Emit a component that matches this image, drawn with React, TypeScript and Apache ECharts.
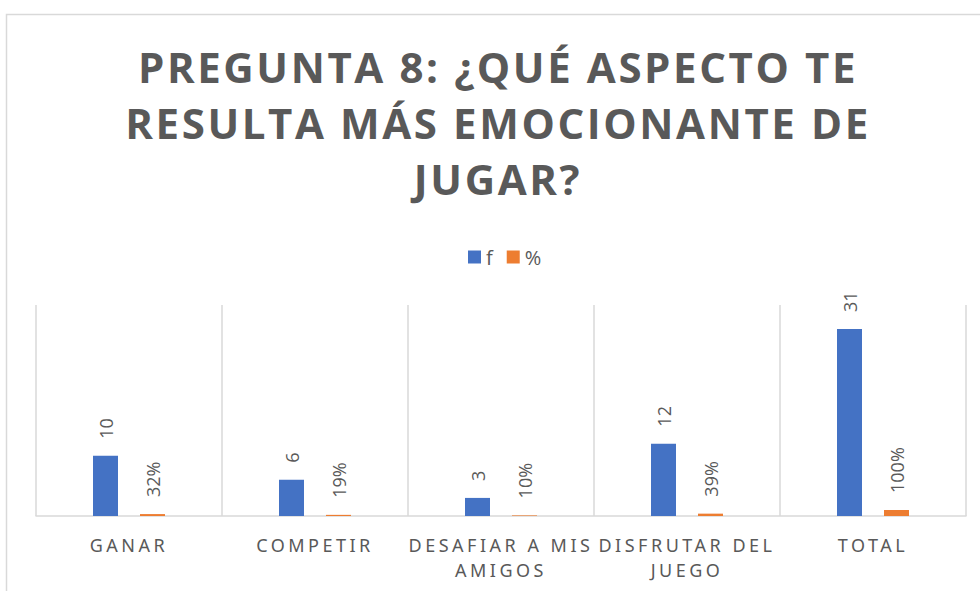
import React, { useEffect, useRef } from "react";
import * as echarts from "echarts";

const categories = ["GANAR", "COMPETIR", "DESAFIAR A MIS AMIGOS", "DISFRUTAR DEL JUEGO", "TOTAL"];
const fValues = [10, 6, 3, 12, 31];
const pctValues = [0.32, 0.19, 0.1, 0.39, 1.0];
const seriesNames = ["f", "%"];
const titleText = "PREGUNTA 8: ¿QUÉ ASPECTO TE\nRESULTA MÁS EMOCIONANTE DE\nJUGAR?";

const TEXT = "#595959";
const BLUE = "#4472C4";
const ORANGE = "#ED7D31";

function wrap(s: string, max: number): string {
  const words = s.split(" ");
  const lines: string[] = [];
  let cur = "";
  for (const w of words) {
    const next = cur ? cur + " " + w : w;
    if (next.length > max && cur) {
      lines.push(cur);
      cur = w;
    } else {
      cur = next;
    }
  }
  if (cur) lines.push(cur);
  return lines.join("\n");
}

export default function App() {
  const ref = useRef<HTMLDivElement>(null);
  useEffect(() => {
    document.body.style.margin = "0";
    const chart = echarts.init(ref.current!, undefined, { renderer: "svg" });
    const labelCommon = {
      show: true,
      position: "top",
      rotate: 90,
      align: "left",
      verticalAlign: "middle",
      distance: 17,
      fontSize: 18,
      color: TEXT,
      fontFamily: "Open Sans",
    };
    chart.setOption({
      animation: false,
      backgroundColor: "#ffffff",
      graphic: [
        {
          type: "rect",
          z: -10,
          silent: true,
          shape: { x: 6.5, y: 14.5, width: 1000, height: 620 },
          style: { fill: "none", stroke: "#d9d9d9", lineWidth: 1.5 },
        },
      ],
      title: {
        text: titleText,
        left: 498,
        top: 38,
        padding: 0,
        textAlign: "center",
        textStyle: {
          fontFamily: "Open Sans",
          fontWeight: "bold",
          fontSize: 42,
          lineHeight: 56,
          color: TEXT,
        },
      },
      legend: {
        data: seriesNames,
        top: 242,
        left: 463,
        icon: "rect",
        itemWidth: 13,
        itemHeight: 13,
        itemGap: 14,
        textStyle: { fontFamily: "Open Sans", fontSize: 20, color: TEXT },
      },
      grid: { left: 36, right: 14, top: 305, bottom: 75, containLabel: false },
      xAxis: {
        type: "category",
        data: categories,
        axisLine: { show: true, lineStyle: { color: "#d9d9d9", width: 1.5 } },
        axisTick: { show: false },
        splitLine: { show: true, lineStyle: { color: "#d9d9d9", width: 1.5 } },
        axisLabel: {
          interval: 0,
          margin: 16,
          fontFamily: "Noto Sans",
          fontSize: 18,
          lineHeight: 25,
          color: TEXT,
          formatter: (v: string) => wrap(v, 14),
        },
      },
      yAxis: {
        type: "value",
        min: 0,
        max: 35,
        show: false,
        splitLine: { show: false },
      },
      series: [
        {
          name: seriesNames[0],
          type: "bar",
          data: fValues,
          barWidth: 25,
          barGap: "88%",
          itemStyle: { color: BLUE },
          label: labelCommon,
        },
        {
          name: seriesNames[1],
          type: "bar",
          data: pctValues,
          barWidth: 25,
          barGap: "88%",
          itemStyle: { color: ORANGE },
          label: {
            ...labelCommon,
            formatter: (p: any) => Math.round(p.value * 100) + "%",
          },
        },
      ],
    });
    return () => chart.dispose();
  }, []);
  return (
    <>
      <style>{`
        .chart text[style*="Noto"] { letter-spacing: 3.5px; }
        .chart text[style*="bold"] { letter-spacing: 2.6px; }
      `}</style>
      <div ref={ref} className="chart" style={{ width: 980, height: 591 }} />
    </>
  );
}
